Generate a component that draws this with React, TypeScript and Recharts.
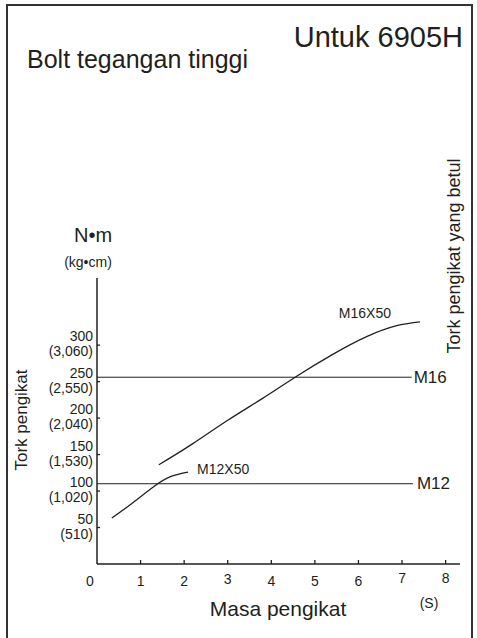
import { ComposedChart, Line, XAxis, YAxis } from 'recharts';

const massTicks = [0, 1, 2, 3, 4, 5, 6, 7, 8];
const torqueTicks = [50, 100, 150, 200, 250, 300];
const torqueKgcm = ['(510)', '(1,020)', '(1,530)', '(2,040)', '(2,550)', '(3,060)'];

const m16x50Mass = [1.42, 2.2, 3.0, 3.8, 4.6, 5.4, 6.2, 6.9, 7.41];
const m16x50Torque = [136, 165, 197, 227, 258, 287, 312, 327, 332];
const m12x50Mass = [0.34, 0.8, 1.3, 1.7, 2.09];
const m12x50Torque = [63, 83, 106, 120, 126];

const m16Mass = [0, 7.22];
const m16Torque = [256, 256];
const m12Mass = [0, 7.25];
const m12Torque = [110, 110];

const INK = '#231f20';
const FONT = 'Arial, "Liberation Sans", Helvetica, sans-serif';

const toPoints = (xs: number[], ys: number[]) => xs.map((x, i) => ({ x, y: ys[i] }));

const m16x50 = toPoints(m16x50Mass, m16x50Torque);
const m12x50 = toPoints(m12x50Mass, m12x50Torque);
const m16 = toPoints(m16Mass, m16Torque);
const m12 = toPoints(m12Mass, m12Torque);

function YTick({ x, y, payload }: any) {
  const i = torqueTicks.indexOf(payload.value);
  return (
    <g>
      <line x1={x + 4} x2={x + 7} y1={y} y2={y} stroke={INK} strokeWidth={1.3} />
      <text x={x} y={y - 4} textAnchor="end" fontSize={14} fill={INK} fontFamily={FONT}>
        {payload.value}
      </text>
      <text x={x} y={y + 11} textAnchor="end" fontSize={14} fill={INK} fontFamily={FONT}>
        {torqueKgcm[i]}
      </text>
    </g>
  );
}

function XTick({ x, y, payload }: any) {
  const dx = payload.value === 0 ? -7 : 0;
  const dy = payload.value >= 7 ? -3 : payload.value === 3 ? -2 : 0;
  return (
    <g>
      {payload.value !== 0 && (
        <line x1={x} x2={x} y1={y} y2={y - 4} stroke={INK} strokeWidth={1.3} />
      )}
      <text x={x + dx} y={y + 22 + dy} textAnchor="middle" fontSize={14} fill={INK} fontFamily={FONT}>
        {payload.value}
      </text>
    </g>
  );
}

const endLabel =
  (text: string, count: number, dx: number, dy: number, size: number, anchor: string) =>
  (props: any) => {
    if (props.index !== count - 1) return <g key={props.index} />;
    return (
      <text
        key={props.index}
        x={props.x + dx}
        y={props.y + dy}
        textAnchor={anchor}
        dominantBaseline="central"
        fontSize={size}
        fill={INK}
        fontFamily={FONT}
      >
        {text}
      </text>
    );
  };

export default function App() {
  return (
    <div style={{ position: 'absolute', left: 0, top: 0, width: 477, height: 638, background: '#fff' }}>
      <ComposedChart
        width={477}
        height={638}
        margin={{ top: 278, right: 17, bottom: 0, left: 37 }}
      >
        <XAxis
          dataKey="x"
          type="number"
          domain={[0, 8.33]}
          ticks={massTicks}
          allowDataOverflow
          height={74}
          tickSize={0}
          tickMargin={0}
          tick={<XTick />}
          axisLine={{ stroke: INK, strokeWidth: 1.5 }}
          tickLine={false}
        />
        <YAxis
          dataKey="y"
          type="number"
          domain={[0, 392]}
          ticks={torqueTicks}
          allowDataOverflow
          width={60}
          tickSize={0}
          tickMargin={4}
          tick={<YTick />}
          axisLine={{ stroke: INK, strokeWidth: 1.5 }}
          tickLine={false}
        />
        <Line
          data={m16}
          dataKey="y"
          stroke={INK}
          strokeWidth={1}
          dot={false}
          isAnimationActive={false}
          label={endLabel('M16', m16.length, 2, 0, 17, 'start')}
        />
        <Line
          data={m12}
          dataKey="y"
          stroke={INK}
          strokeWidth={1}
          dot={false}
          isAnimationActive={false}
          label={endLabel('M12', m12.length, 4, 0, 17, 'start')}
        />
        <Line
          data={m16x50}
          dataKey="y"
          type="natural"
          stroke={INK}
          strokeWidth={1.3}
          dot={false}
          isAnimationActive={false}
          label={endLabel('M16X50', m16x50.length, -55, -9, 14, 'middle')}
        />
        <Line
          data={m12x50}
          dataKey="y"
          type="natural"
          stroke={INK}
          strokeWidth={1.3}
          dot={false}
          isAnimationActive={false}
          label={endLabel('M12X50', m12x50.length, 9, -3, 14, 'start')}
        />
      </ComposedChart>
      <svg
        width={477}
        height={638}
        style={{ position: 'absolute', left: 0, top: 0, pointerEvents: 'none' }}
        fontFamily={FONT}
        fill={INK}
      >
        <rect x={7} y={5} width={465} height={660} fill="none" stroke="#333" strokeWidth={2} />
        <text x={463} y={47} textAnchor="end" fontSize={29}>Untuk 6905H</text>
        <text x={27} y={68} fontSize={25}>Bolt tegangan tinggi</text>
        <text x={93} y={242} textAnchor="middle" fontSize={20}>N•m</text>
        <text x={88} y={267} textAnchor="middle" fontSize={14}>(kg•cm)</text>
        <text x={27} y={420} textAnchor="middle" fontSize={17} transform="rotate(-90 27 420)">
          Tork pengikat
        </text>
        <text x={460} y={256} textAnchor="middle" fontSize={18} transform="rotate(-90 460 256)">
          Tork pengikat yang betul
        </text>
        <text x={278} y={616} textAnchor="middle" fontSize={21}>Masa pengikat</text>
        <text x={429} y={608} textAnchor="middle" fontSize={14}>(S)</text>
      </svg>
    </div>
  );
}
